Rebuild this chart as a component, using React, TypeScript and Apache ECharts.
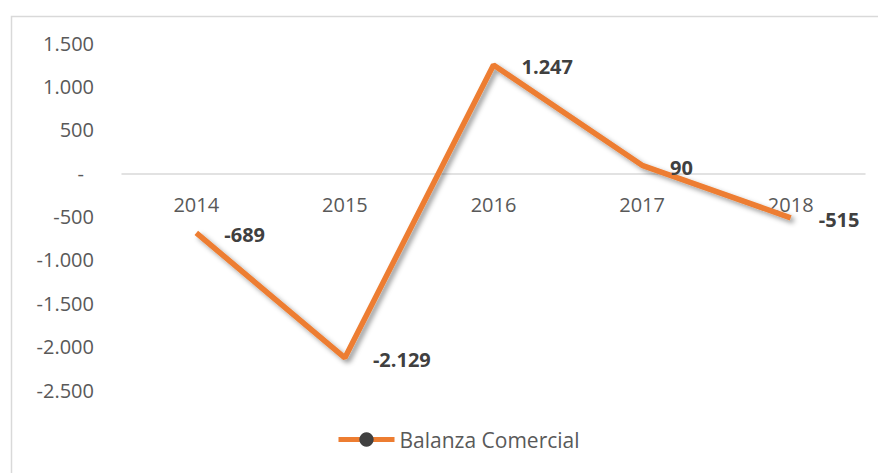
import React, { useEffect, useRef } from "react";
import * as echarts from "echarts";

const categories = ["2014", "2015", "2016", "2017", "2018"];
const balanzaComercial = [-689, -2129, 1247, 90, -515];
const seriesName = "Balanza Comercial";
const yMin = -2500;
const yMax = 1500;
const yInterval = 500;

const FONT = "'Open Sans', 'Noto Sans', sans-serif";

function fmt(v: number): string {
  const s = Math.abs(Math.round(v)).toString().replace(/\B(?=(\d{3})+(?!\d))/g, ".");
  return (v < 0 ? "-" : "") + s;
}

export default function App() {
  const ref = useRef<HTMLDivElement>(null);
  useEffect(() => {
    document.body.style.margin = "0";
    const chart = echarts.init(ref.current!, undefined, { renderer: "svg" });
    chart.setOption({
      animation: false,
      backgroundColor: "#ffffff",
      graphic: [
        {
          type: "rect",
          left: 9,
          top: 14,
          shape: { x: 0, y: 0, width: 900, height: 500 },
          style: { fill: "none", stroke: "#d9d9d9", lineWidth: 1.5 },
          silent: true,
        },
      ],
      grid: { left: 122, right: 13, top: 43, bottom: 83, containLabel: false },
      xAxis: {
        type: "category",
        data: categories,
        boundaryGap: true,
        offset: -216,
        axisLine: { show: true, onZero: false, lineStyle: { color: "#d9d9d9", width: 1.5 } },
        axisTick: { show: false },
        axisLabel: { color: "#595959", fontSize: 20, fontFamily: FONT, margin: 20 },
        splitLine: { show: false },
      },
      yAxis: {
        type: "value",
        min: yMin,
        max: yMax,
        interval: yInterval,
        axisLine: { show: false },
        axisTick: { show: false },
        splitLine: { show: false },
        axisLabel: {
          color: "#595959",
          fontSize: 20,
          fontFamily: FONT,
          margin: 28,
          formatter: (v: number) => (v === 0 ? "{z|-}" : fmt(v)),
          rich: {
            z: { color: "#595959", fontSize: 20, fontFamily: FONT, padding: [0, 10, 0, 0] },
          },
        },
      },
      legend: {
        bottom: 23,
        left: 336,
        padding: 0,
        itemWidth: 56,
        itemHeight: 18,
        itemGap: 10,
        data: [{ name: seriesName }],
        lineStyle: { width: 5, shadowBlur: 0, shadowOffsetX: 0, shadowOffsetY: 0 },
        textStyle: { color: "#595959", fontSize: 21, fontFamily: FONT },
      },
      series: [
        {
          name: seriesName,
          type: "line",
          data: balanzaComercial,
          symbol: "circle",
          symbolSize: 0.01,
          showSymbol: true,
          lineStyle: {
            color: "#ED7D31",
            width: 5.5,
            shadowColor: "rgba(0,0,0,0.4)",
            shadowBlur: 5,
            shadowOffsetX: 3,
            shadowOffsetY: 3,
          },
          itemStyle: { color: "#404040" },
          label: {
            show: true,
            position: "right",
            distance: 28,
            color: "#404040",
            fontSize: 20,
            fontWeight: "bold",
            fontFamily: FONT,
            offset: [0, 2],
            formatter: (p: any) => fmt(p.value),
          },
        },
      ],
    });
    return () => chart.dispose();
  }, []);
  return <div ref={ref} style={{ width: 878, height: 473 }} />;
}
